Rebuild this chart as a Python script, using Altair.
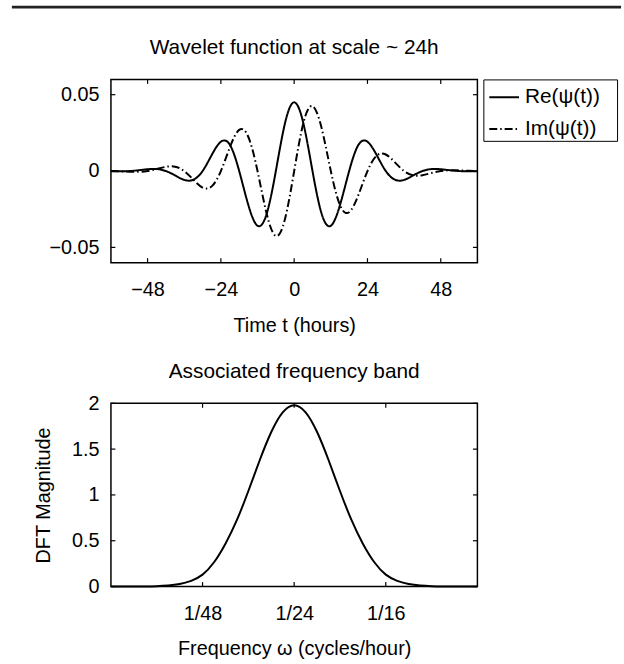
import altair as alt
import pandas as pd

FONT = "Liberation Sans"

# ---------------- top panel data ----------------
top_title = "Wavelet function at scale ~ 24h"
t_hours = [-60, -57, -54, -51, -48, -45, -42, -39, -36, -33, -30, -27, -24, -21,
           -18, -15, -12, -9, -6, -3, 0, 3, 6, 9, 12, 15, 18, 21, 24, 27, 30,
           33, 36, 39, 42, 45, 48, 51, 54, 57, 60]
re_psi = [-0.00015, -0.00018, 0.0, 0.00052, 0.00118, 0.00129, 0.0, -0.00287,
          -0.00579, -0.00568, 0.0, 0.0105, 0.0192, 0.0170, 0.0, -0.02229,
          -0.03583, -0.02799, 0.0, 0.03137, 0.045, 0.03137, 0.0, -0.02799,
          -0.03583, -0.02229, 0.0, 0.0170, 0.0192, 0.0105, 0.0, -0.00568,
          -0.00579, -0.00287, 0.0, 0.00129, 0.00118, 0.00052, 0.0, -0.00018,
          -0.00015]
im_psi = [0.0, -0.00018, -0.00045, -0.00052, 0.0, 0.00129, 0.00276, 0.00287,
          0.0, -0.00568, -0.01083, -0.01004, 0.0, 0.01584, 0.02695, 0.02229,
          0.0, -0.02799, -0.04251, -0.03137, 0.0, 0.03137, 0.04251, 0.02799,
          0.0, -0.02229, -0.02695, -0.01584, 0.0, 0.01004, 0.01083, 0.00568,
          0.0, -0.00287, -0.00276, -0.00129, 0.0, 0.00052, 0.00045, 0.00018,
          0.0]
series_names = ["Re(ψ(t))", "Im(ψ(t))"]
time_ticks = [-48, -24, 0, 24, 48]
wave_yticks = [-0.05, 0, 0.05]

# ---------------- bottom panel data ----------------
bottom_title = "Associated frequency band"
freq = [0.0, 0.0026, 0.00521, 0.00781, 0.01042, 0.01302, 0.01563, 0.01823,
        0.02083, 0.02344, 0.02604, 0.02865, 0.03125, 0.03385, 0.03646, 0.03906,
        0.04167, 0.04427, 0.04688, 0.04948, 0.05208, 0.05469, 0.05729, 0.0599,
        0.0625, 0.0651, 0.06771, 0.07031, 0.07292, 0.07552, 0.07813, 0.08073,
        0.08333]
dft_mag = [0.0, 0.0001, 0.0004, 0.0013, 0.004, 0.011, 0.027, 0.062, 0.13,
           0.265, 0.468, 0.727, 1.043, 1.381, 1.687, 1.902, 1.98, 1.902, 1.687,
           1.381, 1.043, 0.727, 0.468, 0.265, 0.13, 0.062, 0.027, 0.011,
           0.004, 0.0013, 0.0004, 0.0001, 0.0]
freq_ticks = [1 / 48, 1 / 24, 1 / 16]
freq_tick_labels = ["1/48", "1/24", "1/16"]
mag_ticks = [0, 0.5, 1, 1.5, 2]

W, H = 370, 185
TICK = 4.5


def inner_ticks(xfield, xvals, xenc_kw, yfield, yvals, yenc_kw):
    xdf = pd.DataFrame({xfield: xvals})
    ydf = pd.DataFrame({yfield: yvals})
    bx = alt.X(f"{xfield}:Q", **xenc_kw)
    by = alt.Y(f"{yfield}:Q", **yenc_kw)
    r = dict(color="black", strokeWidth=1.2)
    return [
        alt.Chart(xdf).mark_rule(**r).encode(x=bx, y=alt.value(H), y2=alt.value(H - TICK)),
        alt.Chart(xdf).mark_rule(**r).encode(x=bx, y=alt.value(0), y2=alt.value(TICK)),
        alt.Chart(ydf).mark_rule(**r).encode(y=by, x=alt.value(0), x2=alt.value(TICK)),
        alt.Chart(ydf).mark_rule(**r).encode(y=by, x=alt.value(W), x2=alt.value(W - TICK)),
    ]


def title_mark(text, dy):
    return alt.Chart(pd.DataFrame({"a": [0]})).mark_text(
        font=FONT, fontSize=21, color="black", align="center", baseline="alphabetic"
    ).encode(x=alt.value(W / 2), y=alt.value(-dy), text=alt.value(text))


# ---------------- top chart ----------------
wave_df = pd.DataFrame({
    "t": t_hours + t_hours,
    "value": re_psi + im_psi,
    "series": [series_names[0]] * len(t_hours) + [series_names[1]] * len(t_hours),
})
x_top_kw = dict(
    scale=alt.Scale(domain=[-60, 60], nice=False, zero=False),
    axis=alt.Axis(values=time_ticks, title="Time t (hours)", format="d",
                  labelPadding=17.5, titleY=70, titleBaseline="alphabetic"),
)
y_top_kw = dict(
    scale=alt.Scale(domain=[-0.06, 0.06], nice=False, zero=False),
    axis=alt.Axis(values=wave_yticks, title=None, format="~g", labelPadding=12),
)

wave_lines = alt.Chart(wave_df).mark_line(
    strokeWidth=2, color="black", interpolate="natural"
).encode(
    x=alt.X("t:Q", **x_top_kw),
    y=alt.Y("value:Q", **y_top_kw),
    strokeDash=alt.StrokeDash(
        "series:N",
        scale=alt.Scale(domain=series_names, range=[[1, 0], [8, 3, 1.5, 3]]),
        legend=alt.Legend(
            title=None, orient="none", legendX=376, legendY=0,
            strokeColor="black", fillColor="white", padding=2,
            symbolType="stroke", symbolSize=900, symbolStrokeWidth=2,
            symbolStrokeColor="black", symbolOffset=3,
            labelFont=FONT, labelFontSize=21,
            labelColor="black", labelOffset=5, rowPadding=6,
            labelExpr="datum.label + '\u2800'",
        ),
    ),
)

page_rule = alt.Chart(pd.DataFrame({"a": [0]})).mark_rule(
    color="#222222", strokeWidth=3
).encode(x=alt.value(-100), x2=alt.value(515), y=alt.value(-73))

top = alt.layer(
    wave_lines,
    *inner_ticks("t", time_ticks, x_top_kw, "value", wave_yticks, y_top_kw),
    title_mark(top_title, 26),
    page_rule,
).properties(width=W, height=H)

# ---------------- bottom chart ----------------
mag_df = pd.DataFrame({"f": freq, "mag": dft_mag})
freq_expr = (f"datum.value < 0.03 ? '{freq_tick_labels[0]}' : "
             f"(datum.value < 0.05 ? '{freq_tick_labels[1]}' : '{freq_tick_labels[2]}')")
x_bot_kw = dict(
    scale=alt.Scale(domain=[0, 1 / 12], nice=False, zero=False),
    axis=alt.Axis(values=freq_ticks, labelExpr=freq_expr,
                  title="Frequency ω (cycles/hour)", labelPadding=17.5,
                  titleY=69, titleBaseline="alphabetic"),
)
y_bot_kw = dict(
    scale=alt.Scale(domain=[0, 2], nice=False, zero=False),
    axis=alt.Axis(values=mag_ticks, format="~g", title="DFT Magnitude",
                  labelPadding=12, titleX=-62, titleY=H / 2,
                  titleAngle=270, titleBaseline="alphabetic", titleAlign="center"),
)

mag_line = alt.Chart(mag_df).mark_line(
    strokeWidth=2, color="black", interpolate="natural"
).encode(
    x=alt.X("f:Q", **x_bot_kw),
    y=alt.Y("mag:Q", **y_bot_kw),
)

bottom = alt.layer(
    mag_line,
    *inner_ticks("f", freq_ticks, x_bot_kw, "mag", mag_ticks, y_bot_kw),
    title_mark(bottom_title, 26),
).properties(width=W, height=H)

chart = alt.vconcat(top, bottom, spacing=142, bounds="flush").properties(
    padding={"left": 9, "top": 1, "right": 0, "bottom": 0},
    background="white",
).configure_view(
    stroke="black", strokeWidth=1.5
).configure_axis(
    labelFont=FONT, labelFontSize=20, titleFont=FONT, titleFontSize=20,
    titleFontWeight="normal", labelColor="black", titleColor="black",
    ticks=False, tickSize=0, domain=False, grid=False,
)

chart.save("out.html", embed_options={"renderer": "svg", "actions": False})
